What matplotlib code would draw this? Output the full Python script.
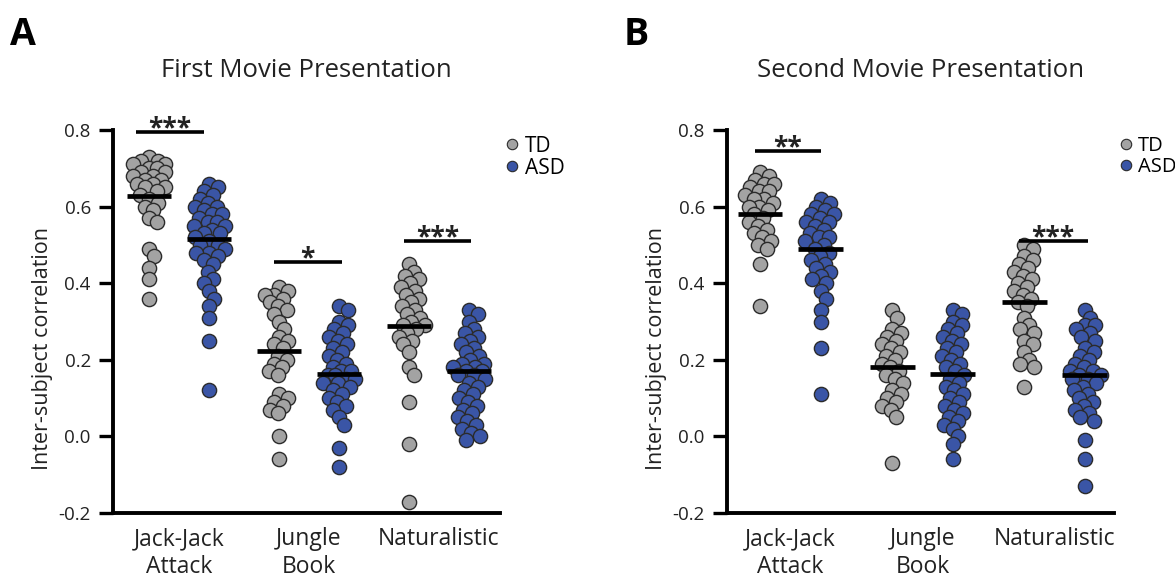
import numpy as np
import matplotlib
matplotlib.use("Agg")
import matplotlib.pyplot as plt
from matplotlib.lines import Line2D

plt.rcParams['font.family'] = ['Open Sans', 'DejaVu Sans']

# categories and groups
categories = ["Jack-Jack\nAttack", "Jungle\nBook", "Naturalistic"]
groups = ["TD", "ASD"]
panel_titles = ["First Movie Presentation", "Second Movie Presentation"]
panel_letters = ["A", "B"]

# first presentation (panel A)
a_td_jack = [0.73, 0.72, 0.72, 0.71, 0.71, 0.70, 0.70, 0.69, 0.69, 0.68, 0.68, 0.67, 0.67, 0.66,
             0.66, 0.65, 0.65, 0.64, 0.63, 0.62, 0.61, 0.60, 0.59, 0.57, 0.56, 0.49, 0.47, 0.44,
             0.41, 0.36]
a_asd_jack = [0.66, 0.65, 0.64, 0.63, 0.62, 0.61, 0.60, 0.60, 0.59, 0.58, 0.58, 0.57, 0.56, 0.56,
              0.55, 0.55, 0.54, 0.53, 0.53, 0.52, 0.51, 0.50, 0.50, 0.49, 0.48, 0.48, 0.47, 0.46,
              0.45, 0.43, 0.41, 0.40, 0.38, 0.36, 0.34, 0.31, 0.25, 0.12]
a_td_jungle = [0.39, 0.38, 0.37, 0.37, 0.36, 0.35, 0.34, 0.33, 0.32, 0.30, 0.28, 0.26, 0.25, 0.24,
               0.23, 0.21, 0.20, 0.19, 0.18, 0.17, 0.16, 0.11, 0.10, 0.09, 0.08, 0.07, 0.06, 0.00,
               -0.06]
a_asd_jungle = [0.34, 0.33, 0.30, 0.29, 0.28, 0.27, 0.26, 0.25, 0.24, 0.23, 0.22, 0.21, 0.20, 0.19,
                0.18, 0.17, 0.17, 0.16, 0.16, 0.15, 0.15, 0.14, 0.14, 0.13, 0.12, 0.11, 0.10, 0.09,
                0.08, 0.07, 0.05, 0.03, -0.03, -0.08]
a_td_nat = [0.45, 0.43, 0.42, 0.41, 0.40, 0.39, 0.38, 0.37, 0.36, 0.35, 0.34, 0.33, 0.32, 0.31,
            0.30, 0.29, 0.29, 0.28, 0.27, 0.26, 0.25, 0.24, 0.22, 0.18, 0.16, 0.09, -0.02, -0.17]
a_asd_nat = [0.33, 0.32, 0.30, 0.28, 0.27, 0.26, 0.25, 0.24, 0.23, 0.22, 0.21, 0.20, 0.19, 0.19,
             0.18, 0.18, 0.17, 0.17, 0.16, 0.16, 0.15, 0.14, 0.13, 0.12, 0.11, 0.10, 0.09, 0.08,
             0.07, 0.06, 0.05, 0.04, 0.03, 0.02, 0.01, 0.00, -0.01]

# second presentation (panel B)
b_td_jack = [0.69, 0.68, 0.67, 0.66, 0.66, 0.65, 0.64, 0.64, 0.63, 0.62, 0.62, 0.61, 0.60, 0.60,
             0.59, 0.58, 0.57, 0.56, 0.55, 0.54, 0.53, 0.52, 0.51, 0.50, 0.49, 0.45, 0.34]
b_asd_jack = [0.62, 0.61, 0.60, 0.59, 0.58, 0.58, 0.57, 0.56, 0.56, 0.55, 0.54, 0.53, 0.52, 0.52,
              0.51, 0.50, 0.49, 0.48, 0.47, 0.46, 0.45, 0.44, 0.43, 0.42, 0.41, 0.40, 0.38, 0.36,
              0.33, 0.30, 0.23, 0.11]
b_td_jungle = [0.33, 0.31, 0.28, 0.27, 0.26, 0.25, 0.24, 0.23, 0.22, 0.21, 0.20, 0.19, 0.18, 0.17,
               0.16, 0.15, 0.14, 0.12, 0.11, 0.10, 0.09, 0.08, 0.07, 0.05, -0.07]
b_asd_jungle = [0.33, 0.32, 0.30, 0.29, 0.28, 0.27, 0.26, 0.25, 0.24, 0.23, 0.22, 0.21, 0.20, 0.19,
                0.18, 0.17, 0.16, 0.15, 0.14, 0.13, 0.12, 0.11, 0.10, 0.09, 0.08, 0.07, 0.06, 0.05,
                0.04, 0.03, 0.02, 0.00, -0.02, -0.06]
b_td_nat = [0.50, 0.49, 0.47, 0.46, 0.45, 0.44, 0.43, 0.42, 0.41, 0.40, 0.39, 0.38, 0.37, 0.36,
            0.35, 0.34, 0.31, 0.29, 0.28, 0.27, 0.25, 0.24, 0.22, 0.20, 0.19, 0.18, 0.13]
b_asd_nat = [0.33, 0.31, 0.29, 0.29, 0.28, 0.27, 0.26, 0.25, 0.23, 0.22, 0.21, 0.20, 0.19, 0.18,
             0.17, 0.17, 0.16, 0.16, 0.15, 0.15, 0.14, 0.13, 0.12, 0.11, 0.10, 0.09, 0.08, 0.07,
             0.06, 0.05, 0.04, -0.01, -0.06, -0.13]

# group means (black bars)
a_means = [[0.628, 0.515], [0.224, 0.162], [0.287, 0.170]]
b_means = [[0.580, 0.490], [0.180, 0.162], [0.352, 0.160]]

# significance: (category index, bar height, label, left, right)
a_sig = [(0, 0.795, "***", -0.33, 0.19), (1, 0.455, "*", -0.27, 0.25), (2, 0.51, "***", -0.27, 0.25)]
b_sig = [(0, 0.745, "**", -0.27, 0.23), (2, 0.51, "***", -0.27, 0.25)]

panels = [
    ([[a_td_jack, a_asd_jack], [a_td_jungle, a_asd_jungle], [a_td_nat, a_asd_nat]], a_means, a_sig),
    ([[b_td_jack, b_asd_jack], [b_td_jungle, b_asd_jungle], [b_td_nat, b_asd_nat]], b_means, b_sig),
]

colors = {"TD": "#a3a3a3", "ASD": "#3a55a6"}
edge = "#2b2b2b"
offset = 0.23
px_x, px_y = 130.0, 383.0  # pixels per data unit


def swarm(vals, center, min_dist=9.0, max_dx=16):
    """简易蜂群布局，允许部分重叠，限制宽度"""
    vals = np.asarray(vals, dtype=float)
    order = np.argsort(-vals)
    xs = np.zeros(len(vals))
    placed = []
    cands = [0.0]
    k = 1
    while k * 0.8 <= max_dx:
        cands += [k * 0.8, -k * 0.8]
        k += 1
    for i in order:
        y = vals[i] * px_y
        best, best_d = 0.0, -1.0
        for dx in cands:
            d = min([np.hypot(px - dx, py - y) for (px, py) in placed] or [99.0])
            if d >= min_dist:
                best = dx
                break
            if d > best_d:
                best, best_d = dx, d
        placed.append((best, y))
        xs[i] = center + best / px_x
    return xs


fig = plt.figure(figsize=(11.75, 5.79), dpi=100)
lefts = [113 / 1175, 727 / 1175]
xlims = [(-0.51, 2.47), (-0.48, 2.45)]
legend_fs = [15, 14.5]

for p, (data, means, sigs) in enumerate(panels):
    ax = fig.add_axes([lefts[p], 1 - 513 / 579, 387 / 1175, 383 / 579])
    for c, pair in enumerate(data):
        for g, vals in enumerate(pair):
            center = c + (-offset if g == 0 else offset)
            xs = swarm(vals, center)
            ax.scatter(xs, vals, s=105, color=colors[groups[g]], edgecolor=edge,
                       linewidth=1.0, zorder=2, clip_on=False)
            ax.plot([center - 0.17, center + 0.17], [means[c][g]] * 2, color="black",
                    lw=3.4, solid_capstyle="butt", zorder=3)
    for c, h, lab, l, r in sigs:
        ax.plot([c + l, c + r], [h, h], color="black", lw=2.6, solid_capstyle="butt",
                clip_on=False)
        ax.text(c + (l + r) / 2, h - 0.012, lab, ha="center", va="baseline", fontsize=19,
                fontweight="bold", color="#222222")

    ax.set_xlim(*xlims[p])
    ax.set_ylim(-0.2, 0.8)
    ax.set_yticks([-0.2, 0.0, 0.2, 0.4, 0.6, 0.8])
    ax.set_yticklabels(["-0.2", "0.0", "0.2", "0.4", "0.6", "0.8"])
    ax.set_xticks(range(3))
    ax.set_xticklabels(categories, fontsize=16.5, color="#222222", linespacing=1.25)
    ax.tick_params(axis="x", length=0, pad=10)
    ax.tick_params(axis="y", length=10, width=2.4, labelsize=13.5, pad=6, colors="black",
                   labelcolor="#222222")
    for s in ["top", "right"]:
        ax.spines[s].set_visible(False)
    for s in ["left", "bottom"]:
        ax.spines[s].set_linewidth(2.8)
    ax.set_ylabel("Inter-subject correlation", fontsize=15.5, color="#222222")
    ax.yaxis.set_label_coords(-0.155, 0.43)
    ax.set_title(panel_titles[p], fontsize=18.5, color="#222222", pad=38)

    handles = [Line2D([], [], marker="o", ls="", markersize=7.5, markerfacecolor=colors[g],
                      markeredgecolor=edge, markeredgewidth=0.8) for g in groups]
    ax.legend(handles, groups, loc="upper left", bbox_to_anchor=(1.015, 0.985), frameon=False,
              fontsize=legend_fs[p], handlelength=0.6, handletextpad=0.3, labelspacing=0.05,
              borderaxespad=0, borderpad=0)

    fig.text(lefts[p] - 103 / 1175, 1 - 45 / 579, panel_letters[p], fontsize=27,
             fontweight="bold", ha="left", va="baseline")

fig.savefig("out.png", dpi=100)
